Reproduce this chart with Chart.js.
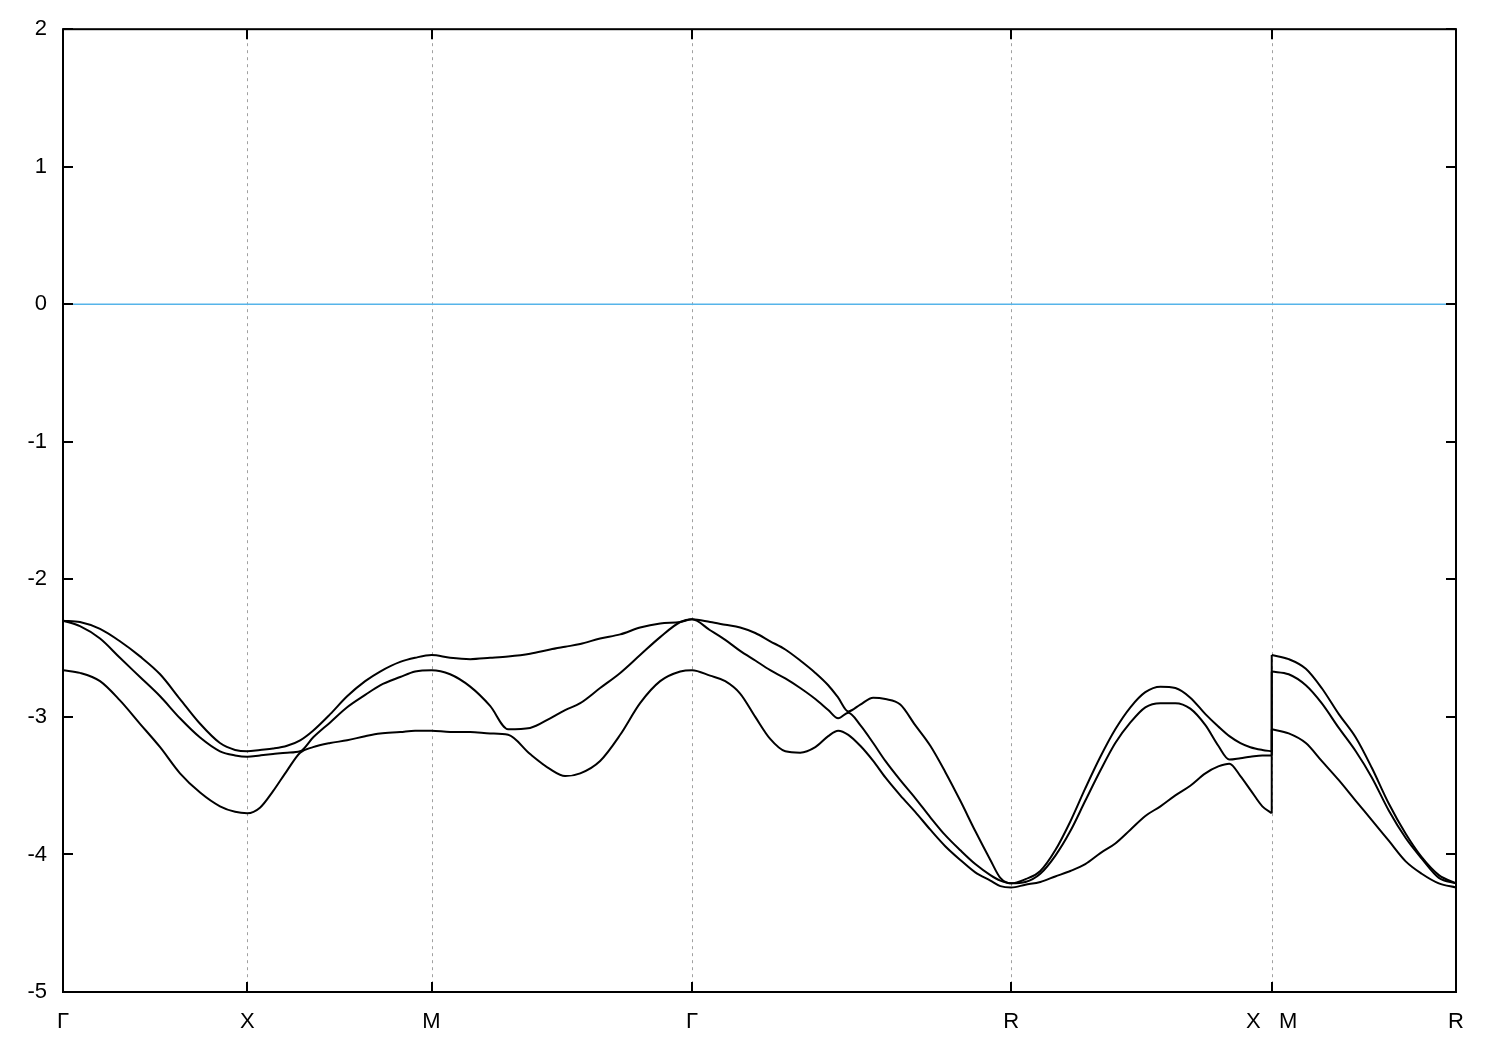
<!DOCTYPE html>
<html>
<head>
<meta charset="utf-8">
<script src="https://cdn.jsdelivr.net/npm/chart.js@4.4.0/dist/chart.umd.min.js"></script>
<style>
  html, body { margin: 0; padding: 0; background: #fff; }
  #wrap { width: 1500px; height: 1050px; }
</style>
</head>
<body>
<div id="wrap"><canvas id="myChart"></canvas></div>
<script>
// high-symmetry points along the k-path (distance Γ-X = 1)
var symK = [0, 1, 2, 3.414, 5.146, 6.560, 7.560];
var symLabels = ['Γ', 'X', 'M', 'Γ', 'R', 'X   M', 'R'];
var yTicks = [2, 1, 0, -1, -2, -3, -4, -5];
var fermiLevel = 0;

// path coordinate of every sample (6.560 appears twice: X then M)
var kGrid = [
  0, 0.092, 0.201, 0.309, 0.418, 0.527, 0.635, 0.744, 0.852, 0.934, 1.000,
  1.069, 1.140, 1.216, 1.287, 1.357, 1.450, 1.542, 1.640, 1.721, 1.830, 1.911, 2.000,
  2.101, 2.210, 2.318, 2.416, 2.535, 2.644, 2.725, 2.807, 2.915, 3.024, 3.132, 3.241, 3.350, 3.414,
  3.512, 3.594, 3.675, 3.757, 3.838, 3.920, 4.001, 4.083, 4.153, 4.207, 4.262, 4.327, 4.397, 4.463,
  4.544, 4.625, 4.707, 4.788, 4.870, 4.951, 5.033, 5.087, 5.146,
  5.223, 5.304, 5.385, 5.467, 5.548, 5.630, 5.711, 5.793, 5.874, 5.956, 6.037, 6.118, 6.200, 6.270,
  6.330, 6.390, 6.444, 6.509, 6.560,
  6.560, 6.652, 6.745, 6.831, 6.924, 7.016, 7.103, 7.195, 7.287, 7.374, 7.467, 7.560
];

var bandTop = [
  -2.30, -2.31, -2.36, -2.45, -2.56, -2.69, -2.87, -3.05, -3.19, -3.24, -3.25,
  -3.24, -3.23, -3.21, -3.17, -3.10, -2.98, -2.85, -2.74, -2.67, -2.60, -2.57, -2.55,
  -2.57, -2.58, -2.57, -2.56, -2.54, -2.51, -2.49, -2.47, -2.43, -2.40, -2.35, -2.32, -2.31, -2.29,
  -2.31, -2.33, -2.35, -2.39, -2.45, -2.51, -2.59, -2.68, -2.77, -2.86, -2.96, -2.91, -2.86, -2.87,
  -2.91, -3.06, -3.21, -3.40, -3.61, -3.83, -4.04, -4.17, -4.21,
  -4.18, -4.12, -3.97, -3.76, -3.52, -3.29, -3.09, -2.93, -2.82, -2.78, -2.79, -2.86, -2.98, -3.07,
  -3.14, -3.19, -3.22, -3.24, -3.25,
  -2.55, -2.58, -2.65, -2.79, -2.98, -3.15, -3.37, -3.63, -3.85, -4.02, -4.15, -4.21
];

var bandMid = [
  -2.30, -2.34, -2.43, -2.57, -2.71, -2.85, -3.01, -3.15, -3.25, -3.28, -3.29,
  -3.28, -3.27, -3.26, -3.25, -3.15, -3.04, -2.93, -2.84, -2.77, -2.71, -2.67, -2.66,
  -2.69, -2.78, -2.92, -3.09, -3.08, -3.01, -2.95, -2.90, -2.79, -2.68, -2.55, -2.42, -2.31, -2.29,
  -2.37, -2.44, -2.52, -2.59, -2.66, -2.72, -2.79, -2.87, -2.95, -3.01, -2.97, -3.06, -3.19, -3.32,
  -3.46, -3.59, -3.73, -3.86, -3.97, -4.07, -4.15, -4.19, -4.21,
  -4.20, -4.14, -4.01, -3.83, -3.61, -3.39, -3.19, -3.04, -2.93, -2.90, -2.90, -2.94, -3.06, -3.21,
  -3.31, -3.30, -3.29, -3.28, -3.28,
  -2.67, -2.69, -2.77, -2.90, -3.08, -3.25, -3.44, -3.68, -3.88, -4.03, -4.17, -4.21
];

var bandLow = [
  -2.66, -2.68, -2.74, -2.88, -3.05, -3.22, -3.41, -3.55, -3.65, -3.69, -3.70,
  -3.66, -3.54, -3.39, -3.26, -3.22, -3.19, -3.17, -3.14, -3.12, -3.11, -3.10, -3.10,
  -3.11, -3.11, -3.12, -3.13, -3.27, -3.38, -3.43, -3.41, -3.32, -3.13, -2.90, -2.74, -2.67, -2.66,
  -2.70, -2.74, -2.83, -3.00, -3.16, -3.25, -3.26, -3.22, -3.14, -3.10, -3.13, -3.21, -3.32, -3.44,
  -3.57, -3.69, -3.82, -3.94, -4.04, -4.13, -4.19, -4.23, -4.24,
  -4.22, -4.20, -4.16, -4.12, -4.07, -3.99, -3.92, -3.82, -3.72, -3.65, -3.57, -3.50, -3.41, -3.36,
  -3.34, -3.43, -3.53, -3.65, -3.70,
  -3.09, -3.12, -3.19, -3.32, -3.46, -3.61, -3.75, -3.90, -4.05, -4.14, -4.21, -4.24
];

// index where the path jumps (X | M)
var jump = 0;
for (var i = 1; i < kGrid.length; i++) {
  if (kGrid[i] === kGrid[i - 1]) jump = i;
}

function pts(band, a, b) {
  var out = [];
  for (var i = a; i < b; i++) out.push({ x: kGrid[i], y: band[i] });
  return out;
}

var datasets = [{
  data: [{ x: symK[0], y: fermiLevel }, { x: symK[symK.length - 1], y: fermiLevel }],
  borderColor: '#56b4e9',
  borderWidth: 1.5,
  pointRadius: 0,
  tension: 0
}];

[bandLow, bandMid, bandTop].forEach(function (band) {
  datasets.push({
    data: pts(band, 0, jump),
    borderColor: '#000', borderWidth: 2, pointRadius: 0,
    cubicInterpolationMode: 'monotone'
  });
  datasets.push({
    data: pts(band, jump - 1, jump + 1),
    borderColor: '#000', borderWidth: 2, pointRadius: 0, tension: 0
  });
  datasets.push({
    data: pts(band, jump, kGrid.length),
    borderColor: '#000', borderWidth: 2, pointRadius: 0,
    cubicInterpolationMode: 'monotone'
  });
});

var framePlugin = {
  id: 'frame',
  beforeDatasetsDraw: function (chart) {
    var ctx = chart.ctx, a = chart.chartArea, xs = chart.scales.x;
    ctx.save();
    ctx.strokeStyle = '#a0a0a0';
    ctx.lineWidth = 1;
    ctx.setLineDash([3, 4]);
    symK.slice(1, -1).forEach(function (k) {
      var px = Math.round(xs.getPixelForValue(k)) + 0.5;
      ctx.beginPath();
      ctx.moveTo(px, a.top);
      ctx.lineTo(px, a.bottom);
      ctx.stroke();
    });
    ctx.restore();
  },
  afterDatasetsDraw: function (chart) {
    var ctx = chart.ctx, a = chart.chartArea, xs = chart.scales.x, ys = chart.scales.y;
    var t = 10;
    ctx.save();
    ctx.strokeStyle = '#000';
    ctx.lineWidth = 2;
    ctx.strokeRect(a.left, a.top, a.right - a.left, a.bottom - a.top);
    ctx.beginPath();
    yTicks.forEach(function (v) {
      var py = Math.round(ys.getPixelForValue(v));
      ctx.moveTo(a.left, py); ctx.lineTo(a.left + t, py);
      ctx.moveTo(a.right, py); ctx.lineTo(a.right - t, py);
    });
    symK.forEach(function (k) {
      var px = Math.round(xs.getPixelForValue(k));
      ctx.moveTo(px, a.bottom); ctx.lineTo(px, a.bottom - t);
      ctx.moveTo(px, a.top); ctx.lineTo(px, a.top + t);
    });
    ctx.stroke();
    ctx.restore();
  }
};

var ctx = document.getElementById('myChart').getContext('2d');
var myChart = new Chart(ctx, {
  type: 'line',
  data: { datasets: datasets },
  options: {
    responsive: true,
    maintainAspectRatio: false,
    animation: false,
    events: [],
    layout: { padding: { top: 29, right: 44, left: 0, bottom: 0 } },
    plugins: { legend: { display: false }, tooltip: { enabled: false } },
    scales: {
      x: {
        type: 'linear',
        min: symK[0],
        max: symK[symK.length - 1],
        grid: { display: false, drawTicks: false },
        border: { display: false },
        afterBuildTicks: function (scale) {
          scale.ticks = symK.map(function (k) { return { value: k }; });
        },
        afterFit: function (scale) { scale.height = 58; },
        ticks: {
          autoSkip: false,
          maxRotation: 0,
          padding: 17,
          color: '#000',
          font: { family: 'Liberation Sans, Arial, sans-serif', size: 22 },
          callback: function (value, index) { return symLabels[index]; }
        }
      },
      y: {
        min: yTicks[yTicks.length - 1],
        max: yTicks[0],
        grid: { display: false, drawTicks: false },
        border: { display: false },
        afterFit: function (scale) { scale.width = 63; },
        ticks: {
          stepSize: 1,
          padding: 16,
          color: '#000',
          font: { family: 'Liberation Sans, Arial, sans-serif', size: 22 }
        }
      }
    }
  },
  plugins: [framePlugin]
});
</script>
</body>
</html>
